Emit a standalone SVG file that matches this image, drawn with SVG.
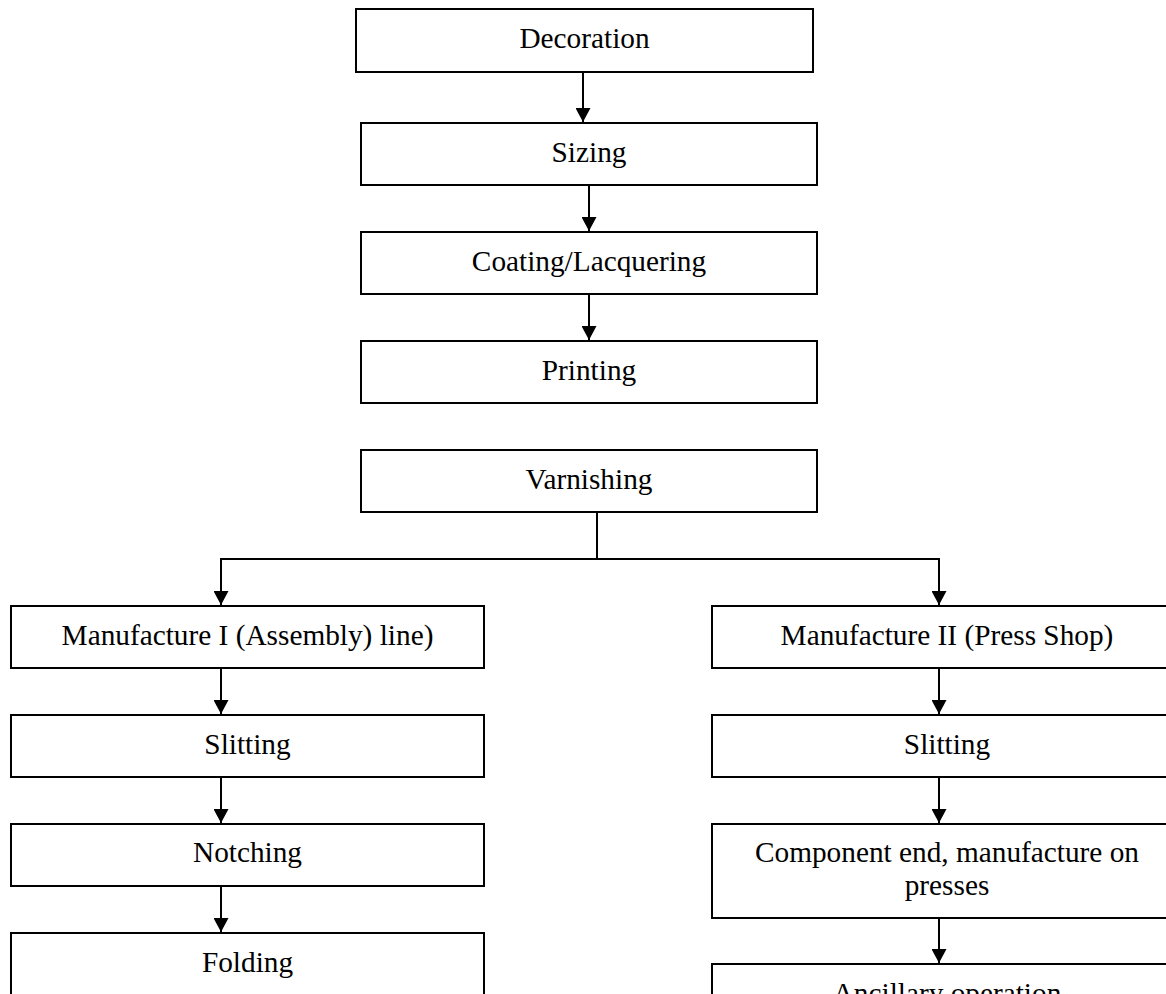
<svg xmlns="http://www.w3.org/2000/svg" width="1166" height="994" viewBox="0 0 1166 994">
<style>
.box{fill:#fff;stroke:#000;stroke-width:2}
.lbl{font-family:"Liberation Serif","Times New Roman",serif;font-size:29.3px;fill:#000;text-anchor:middle}
.conn{fill:none;stroke:#000;stroke-width:2}
</style>
<defs>
<marker id="ah" viewBox="0 0 14 15" refX="14" refY="7.5" markerWidth="14" markerHeight="15" markerUnits="userSpaceOnUse" orient="auto">
<path d="M0,0 L14,7.5 L0,15 z" fill="#000"/>
</marker>
</defs>
<rect width="1166" height="994" fill="#fff"/>
<g id="connectors">
<path class="conn" d="M583,72 V122" marker-end="url(#ah)"/>
<path class="conn" d="M589,185 V231" marker-end="url(#ah)"/>
<path class="conn" d="M589,294 V340" marker-end="url(#ah)"/>
<path class="conn" d="M597,512 V559"/>
<path class="conn" d="M221,559 H939"/>
<path class="conn" d="M221,558 V605" marker-end="url(#ah)"/>
<path class="conn" d="M939,558 V605" marker-end="url(#ah)"/>
<path class="conn" d="M221,668 V714" marker-end="url(#ah)"/>
<path class="conn" d="M221,777 V823" marker-end="url(#ah)"/>
<path class="conn" d="M221,886 V932" marker-end="url(#ah)"/>
<path class="conn" d="M939,668 V714" marker-end="url(#ah)"/>
<path class="conn" d="M939,777 V823" marker-end="url(#ah)"/>
<path class="conn" d="M939,918 V963" marker-end="url(#ah)"/>
</g>
<g id="decoration"><rect class="box" x="356" y="9" width="457" height="63"/><text class="lbl" x="584.5" y="48">Decoration</text></g>
<g id="sizing"><rect class="box" x="361" y="123" width="456" height="62"/><text class="lbl" x="589" y="161.5">Sizing</text></g>
<g id="coating"><rect class="box" x="361" y="232" width="456" height="62"/><text class="lbl" x="589" y="270.5">Coating/Lacquering</text></g>
<g id="printing"><rect class="box" x="361" y="341" width="456" height="62"/><text class="lbl" x="589" y="379.5">Printing</text></g>
<g id="varnishing"><rect class="box" x="361" y="450" width="456" height="62"/><text class="lbl" x="589" y="488.5">Varnishing</text></g>
<g id="manufacture1"><rect class="box" x="11" y="606" width="473" height="62"/><text class="lbl" x="247.5" y="645">Manufacture I (Assembly) line)</text></g>
<g id="slitting1"><rect class="box" x="11" y="715" width="473" height="62"/><text class="lbl" x="247.5" y="753.5">Slitting</text></g>
<g id="notching"><rect class="box" x="11" y="824" width="473" height="62"/><text class="lbl" x="247.5" y="862">Notching</text></g>
<g id="folding"><rect class="box" x="11" y="933" width="473" height="80"/><text class="lbl" x="247.5" y="971.5">Folding</text></g>
<g id="manufacture2"><rect class="box" x="712" y="606" width="470" height="62"/><text class="lbl" x="947" y="645">Manufacture II (Press Shop)</text></g>
<g id="slitting2"><rect class="box" x="712" y="715" width="470" height="62"/><text class="lbl" x="947" y="753.5">Slitting</text></g>
<g id="component"><rect class="box" x="712" y="824" width="470" height="94"/><text class="lbl" x="947" y="862">Component end, manufacture on</text><text class="lbl" x="947" y="895">presses</text></g>
<g id="ancillary"><rect class="box" x="712" y="964" width="470" height="80"/><text class="lbl" x="947" y="1003">Ancillary operation</text></g>
</svg>
